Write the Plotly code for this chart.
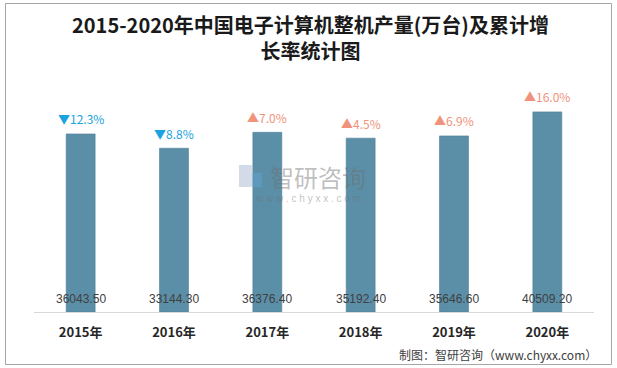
import plotly.graph_objects as go

years = ["2015年", "2016年", "2017年", "2018年", "2019年", "2020年"]
production = [36043.50, 33144.30, 36376.40, 35192.40, 35646.60, 40509.20]
growth = [-12.3, -8.8, 7.0, 4.5, 6.9, 16.0]

W, H = 617, 368
ML, MR, MT, MB = 34, 23, 65, 56
PW, PH = W - ML - MR, H - MT - MB

def px(x):
    return (x - ML) / PW

def py(y):
    return (H - MB - y) / PH

fig = go.Figure()
fig.add_trace(go.Bar(
    x=years, y=production, width=0.31,
    marker=dict(color="#5b8fa8", line=dict(color="#4d7f98", width=0.6)),
    hoverinfo="skip", showlegend=False,
))

ann = []
for yr, v, g in zip(years, production, growth):
    ann.append(dict(x=yr, y=0, xref="x", yref="y", text=f"{v:.2f}", showarrow=False,
                    yanchor="middle", yshift=13,
                    font=dict(family="Liberation Sans, Arial", size=12, color="#404040")))
    if g < 0:
        t, c = f"▼{abs(g):.1f}%", "#1aa3e0"
    else:
        t, c = f"▲{g:.1f}%", "#f0937a"
    ann.append(dict(x=yr, y=v, xref="x", yref="y", text=t, showarrow=False,
                    yanchor="middle", yshift=15,
                    font=dict(family="Noto Sans CJK SC", size=12, color=c)))

# title
ann.append(dict(x=px(310), y=py(38), xref="paper", yref="paper", showarrow=False,
                yanchor="middle", xanchor="center", align="center",
                text="<b>2015-2020年中国电子计算机整机产量(万台)及累计增<br>长率统计图</b>",
                font=dict(family="Noto Sans CJK SC", size=20, color="#1a1a1a")))
# source
ann.append(dict(x=px(599), y=py(354), xref="paper", yref="paper", showarrow=False,
                xanchor="right", yanchor="middle", text="制图：智研咨询（www.chyxx.com）",
                font=dict(family="Noto Sans CJK SC", size=12, color="#404040")))
# watermark
ann.append(dict(x=px(268), y=py(176), xref="paper", yref="paper", showarrow=False,
                xanchor="left", yanchor="middle", text="智研咨询",
                font=dict(family="Noto Sans CJK SC", size=24, color="rgba(110,110,110,0.45)")))
ann.append(dict(x=px(308), y=py(198), xref="paper", yref="paper", showarrow=False,
                xanchor="center", yanchor="middle", text="w w w . c h y x x . c o m",
                font=dict(family="Liberation Sans", size=10, color="rgba(110,110,110,0.45)")))

shapes = [
    dict(type="rect", xref="paper", yref="paper", x0=px(5.5), x1=px(611.5), y0=py(364.5), y1=py(3.5),
         line=dict(color="#a6a6a6", width=1), fillcolor="rgba(0,0,0,0)", layer="above"),
    # watermark logo
    dict(type="rect", xref="paper", yref="paper", x0=px(239), x1=px(252), y0=py(187), y1=py(165),
         line=dict(width=0), fillcolor="rgba(130,150,190,0.35)"),
    dict(type="rect", xref="paper", yref="paper", x0=px(252), x1=px(262), y0=py(187), y1=py(173),
         line=dict(width=0), fillcolor="rgba(100,170,220,0.35)"),
]

fig.update_layout(
    width=W, height=H,
    margin=dict(l=ML, r=MR, t=MT, b=MB),
    paper_bgcolor="white", plot_bgcolor="white",
    xaxis=dict(showline=True, linecolor="#d9d9d9", linewidth=1, ticks="", showgrid=False,
               tickfont=dict(family="Noto Sans CJK SC", size=13, color="#262626"),
               ticklabelstandoff=8, tickprefix="<b>", ticksuffix="</b>"),
    yaxis=dict(range=[0, 50000], visible=False, showgrid=False),
    annotations=ann, shapes=shapes,
)
fig.write_html("out.html", config={"displayModeBar": False},
               post_script="document.body.style.margin='0';document.body.style.padding='0';")
